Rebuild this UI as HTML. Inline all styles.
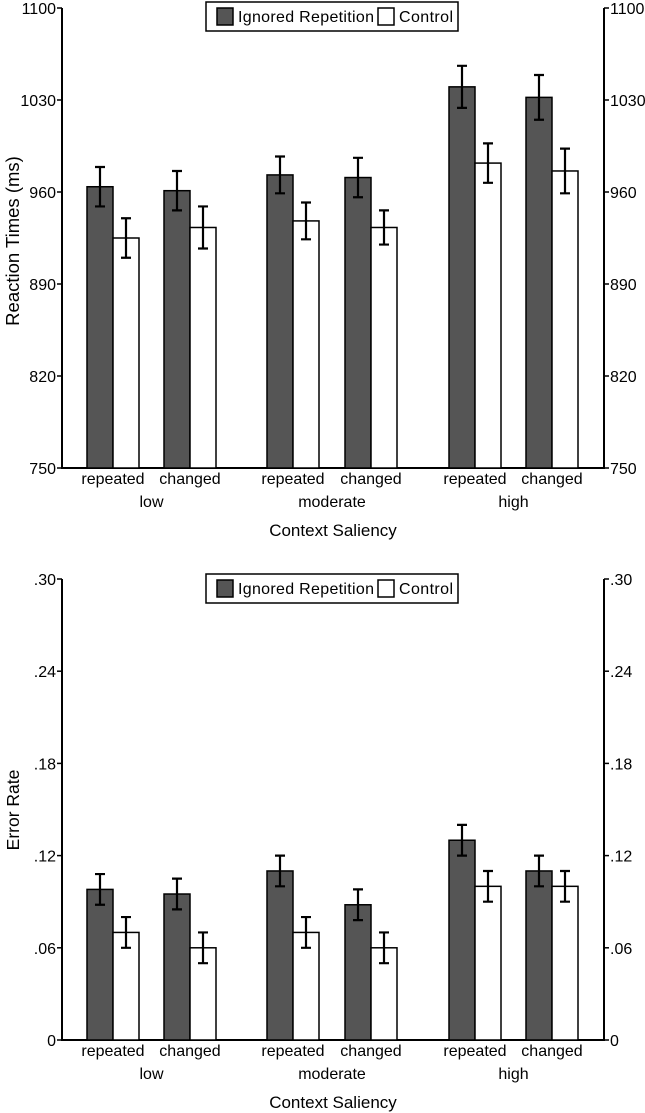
<!DOCTYPE html>
<html><head><meta charset="utf-8"><style>
body{margin:0;background:#fff;}
svg{display:block;font-family:"Liberation Sans",sans-serif;}
</style></head><body>
<svg id="chart" width="645" height="1113" viewBox="0 0 645 1113" xmlns="http://www.w3.org/2000/svg"></svg>
<script>
const conditions = ["repeated","changed","repeated","changed","repeated","changed"];
const groups = ["low","moderate","high"];
const rtIgnored = [964, 961, 973, 971, 1040, 1032];
const rtIgnoredErr = [15, 15, 14, 15, 16, 17];
const rtControl = [925, 933, 938, 933, 982, 976];
const rtControlErr = [15, 16, 14, 13, 15, 17];
const rtTicks = [750, 820, 890, 960, 1030, 1100];
const rtTickLabels = ["750","820","890","960","1030","1100"];
const erIgnored = [0.098, 0.095, 0.110, 0.088, 0.130, 0.110];
const erIgnoredErr = [0.010, 0.010, 0.010, 0.010, 0.010, 0.010];
const erControl = [0.070, 0.060, 0.070, 0.060, 0.100, 0.100];
const erControlErr = [0.010, 0.010, 0.010, 0.010, 0.010, 0.010];
const erTicks = [0, 0.06, 0.12, 0.18, 0.24, 0.30];
const erTickLabels = ["0",".06",".12",".18",".24",".30"];

const svg = document.getElementById('chart');
const NS = "http://www.w3.org/2000/svg";
function mk(tag, attrs, parent){const e=document.createElementNS(NS,tag);for(const k in attrs)e.setAttribute(k,attrs[k]);(parent||svg).appendChild(e);return e;}
const pairX = [87, 164, 267, 345, 449, 526];
const groupCenters = [(87+216)/2, (267+397)/2, (449+578)/2];
const BW = 26, XL = 62, XR = 604;

function drawPanel(p){
  const g = mk('g',{});
  
  
  const y = v => p.y0 - (v - p.min)/(p.max - p.min)*(p.y0 - p.y1);
  const ax = mk('path',{d:`M${XL} ${p.y1}V${p.y0}H${XR}V${p.y1}`,fill:'none',stroke:'#000','stroke-width':2},g);
  
  
  p.ticks.forEach((t,i)=>{
    const yy=y(t);
    mk('line',{x1:XL-5,x2:XL,y1:yy,y2:yy,stroke:'#000','stroke-width':1.5},g);
    mk('line',{x1:XR,x2:XR+5,y1:yy,y2:yy,stroke:'#000','stroke-width':1.5},g);
    const tl=mk('text',{x:XL-6,y:yy+6,'text-anchor':'end','font-size':16},g);
    tl.textContent=p.tickLabels[i];
    
    
    const tr=mk('text',{x:XR+6,y:yy+6,'text-anchor':'start','font-size':16},g);
    tr.textContent=p.tickLabels[i];
    
    
  });
  for(let i=0;i<conditions.length;i++){
    const x=pairX[i];
    [[p.ign,p.ignErr,'#555',x,'bar-ignored'],[p.ctl,p.ctlErr,'#fff',x+BW,'bar-control']].forEach(s=>{
      const v=s[0][i], e=s[1][i], top=y(v);
      const r=mk('rect',{x:s[3],y:top,width:BW,height:p.y0-top,fill:s[2],stroke:'#000','stroke-width':1.5},g);
      
      
      const cx=s[3]+BW/2, yt=y(v+e), yb=y(v-e);
      const eb=mk('path',{d:`M${cx} ${yt}V${yb}M${cx-5} ${yt}H${cx+5}M${cx-5} ${yb}H${cx+5}`,stroke:'#000','stroke-width':2.2,fill:'none'},g);
      
      
    });
    const cl=mk('text',{x:x+BW,y:p.y0+16,'text-anchor':'middle','font-size':16},g);
    cl.textContent=conditions[i];
    
    
  }
  groups.forEach((gr,i)=>{
    const t=mk('text',{x:groupCenters[i],y:p.y0+39,'text-anchor':'middle','font-size':16},g);
    t.textContent=gr;
    
    
  });
  const xt=mk('text',{x:333,y:p.y0+68,'text-anchor':'middle','font-size':17},g);
  xt.textContent='Context Saliency';
  
  
  const yt=mk('text',{x:0,y:0,'text-anchor':'middle','font-size':p.yTitleSize,transform:`translate(19 ${p.yTitleY}) rotate(-90)`},g);
  yt.textContent=p.yTitle;
  
  
  const L=p.legendY;
  const lg=mk('g',{},g);
  
  
  mk('rect',{x:206,y:L,width:252,height:29,fill:'#fff',stroke:'#000','stroke-width':1.5},lg);
  mk('rect',{x:217,y:L+6,width:16,height:17,fill:'#555',stroke:'#000','stroke-width':1.5},lg);
  const l1=mk('text',{x:238,y:L+20,'font-size':16,textLength:136},lg);
  l1.textContent='Ignored Repetition';
  
  
  mk('rect',{x:378,y:L+6,width:16,height:17,fill:'#fff',stroke:'#000','stroke-width':1.5},lg);
  const l2=mk('text',{x:399,y:L+20,'font-size':16,textLength:54},lg);
  l2.textContent='Control';
  
  
}
drawPanel({name:'reaction-time-panel',min:750,max:1100,y0:468,y1:8,ticks:rtTicks,tickLabels:rtTickLabels,ign:rtIgnored,ignErr:rtIgnoredErr,ctl:rtControl,ctlErr:rtControlErr,yTitle:'Reaction Times (ms)',yTitleY:241,yTitleSize:18.5,legendY:2});
drawPanel({name:'error-rate-panel',min:0,max:0.30,y0:1040,y1:579,ticks:erTicks,tickLabels:erTickLabels,ign:erIgnored,ignErr:erIgnoredErr,ctl:erControl,ctlErr:erControlErr,yTitle:'Error Rate',yTitleY:810,yTitleSize:17.5,legendY:574});
</script>
</body></html>
